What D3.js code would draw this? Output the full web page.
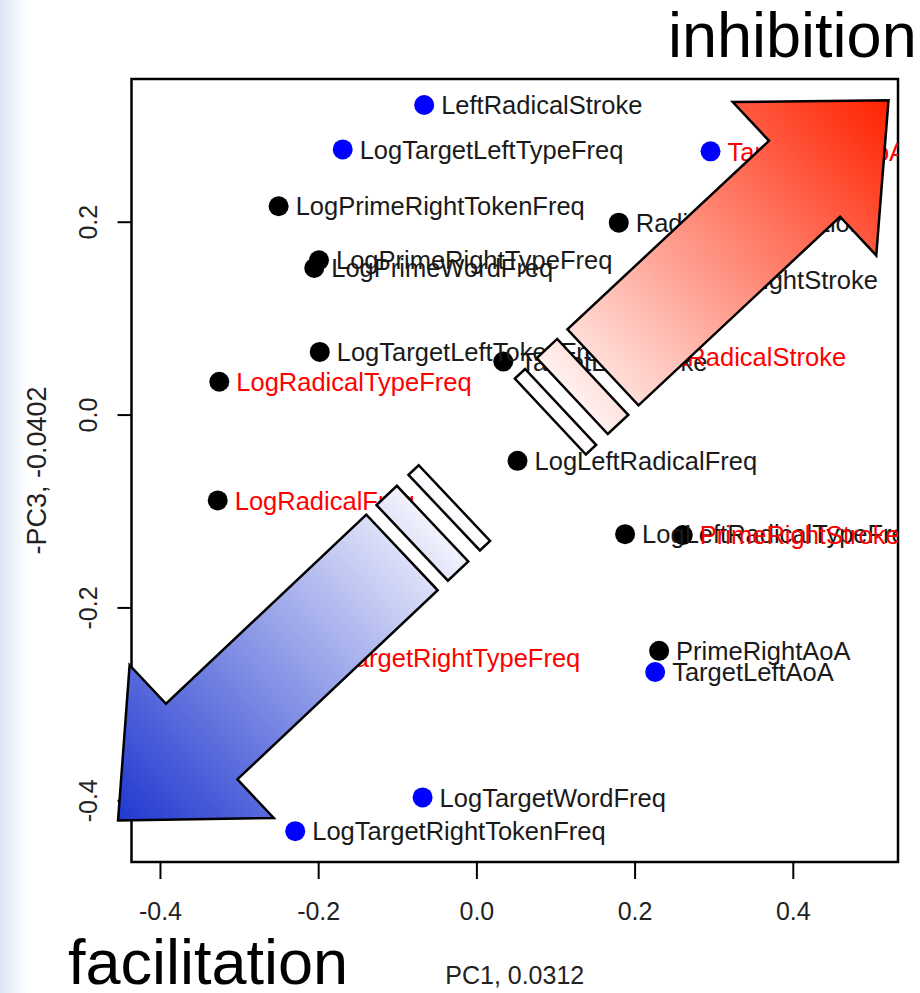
<!DOCTYPE html>
<html>
<head>
<meta charset="utf-8">
<script src="https://cdn.jsdelivr.net/npm/d3@7"></script>
<style>
    body { margin: 0; background: #fff; }
    text { font-family: "Liberation Sans", Arial, sans-serif; }
</style>
</head>
<body>
<script>
//page size
var w = 920, h = 993;

//variable names and their loadings
var names = [
    "LeftRadicalStroke", "LogTargetLeftTypeFreq", "TargetRightAoA", "LogPrimeRightTokenFreq",
    "RadicalCombination", "LogPrimeRightTypeFreq", "LogPrimeWordFreq", "TargetRightStroke",
    "LogTargetLeftTokenFreq", "TargetLeftStroke", "RightRadicalStroke", "LogRadicalTypeFreq",
    "LogLeftRadicalFreq", "LogRadicalFreq", "LogLeftRadicalTypeFreq", "PrimeRightStroke",
    "PrimeRightAoA", "TargetLeftAoA", "LogTargetRightTypeFreq", "LogTargetWordFreq",
    "LogTargetRightTokenFreq"
];
var pc1 = [
    -0.066, -0.169, 0.296, -0.250,
    0.180, -0.199, -0.205, 0.228,
    -0.198, 0.034, 0.170, -0.325,
    0.052, -0.327, 0.188, 0.261,
    0.231, 0.226, -0.245, -0.068,
    -0.229
];
var pc3 = [
    0.321, 0.275, 0.273, 0.216,
    0.199, 0.160, 0.152, 0.140,
    0.065, 0.055, 0.060, 0.034,
    -0.048, -0.089, -0.124, -0.125,
    -0.245, -0.267, -0.252, -0.397,
    -0.432
];
//dot group (target side vs other) and label group (significant or not)
var dotGroup = [
    "target", "target", "target", "other",
    "other", "other", "other", "other",
    "other", "other", "other", "other",
    "other", "other", "other", "other",
    "other", "target", "other", "target",
    "target"
];
var labelGroup = [
    "ns", "ns", "sig", "ns",
    "ns", "ns", "ns", "ns",
    "ns", "ns", "sig", "sig",
    "ns", "sig", "ns", "sig",
    "ns", "ns", "sig", "ns",
    "ns"
];
var xTicks = [-0.4, -0.2, 0.0, 0.2, 0.4];
var yTicks = [-0.4, -0.2, 0.0, 0.2];

//arrow annotations, tail and tip in data units
var arrowNames = ["inhibition", "facilitation"];
var arrowTail = [[0.160, 0.049], [-0.094, -0.143]];
var arrowTip = [[0.521, 0.326], [-0.453, -0.421]];

window.onload = function(){

    var points = names.map(function(d, i){
        return { name: d, x: pc1[i], y: pc3[i], dot: dotGroup[i], lab: labelGroup[i] };
    });

    //plot box edges
    var boxL = 131.5, boxR = 898, boxT = 79, boxB = 862;

    var x = d3.scaleLinear()
        .domain([-0.436, 0.533])
        .range([boxL, boxR]);

    var y = d3.scaleLinear()
        .domain([-0.464, 0.348])
        .range([boxB, boxT]);

    var dotColor = d3.scaleOrdinal()
        .domain(["target", "other"])
        .range(["#0000ff", "#000000"]);

    var labelColor = d3.scaleOrdinal()
        .domain(["sig", "ns"])
        .range(["#ff0000", "#1a1a1a"]);

    var svg = d3.select("body")
        .append("svg")
        .attr("width", w)
        .attr("height", h);

    var defs = svg.append("defs");

    //faint slide background on the left edge
    var bg = defs.append("linearGradient")
        .attr("id", "bgGrad")
        .attr("x1", 0).attr("x2", 1).attr("y1", 0).attr("y2", 0);
    bg.append("stop").attr("offset", 0).attr("stop-color", "#dbe5f5");
    bg.append("stop").attr("offset", 1).attr("stop-color", "#ffffff");

    svg.append("rect")
        .attr("x", 0)
        .attr("y", 0)
        .attr("width", 28)
        .attr("height", h)
        .style("fill", "url(#bgGrad)");

    //clip labels to the plot region
    defs.append("clipPath")
        .attr("id", "plotClip")
        .append("rect")
        .attr("x", boxL)
        .attr("y", boxT)
        .attr("width", boxR - boxL)
        .attr("height", boxB - boxT);

    var fmt = function(d){ return d.toFixed(1); };

    //x axis
    var xAxis = svg.append("g")
        .attr("class", "axis")
        .attr("transform", "translate(0," + boxB + ")")
        .call(d3.axisBottom(x).tickValues(xTicks).tickSize(17).tickPadding(23).tickFormat(fmt));

    //y axis
    var yAxis = svg.append("g")
        .attr("class", "axis")
        .attr("transform", "translate(" + boxL + ",0)")
        .call(d3.axisLeft(y).tickValues(yTicks).tickSize(14).tickFormat(fmt));

    svg.selectAll(".axis .domain").remove();
    svg.selectAll(".axis line")
        .style("stroke", "#000")
        .style("stroke-width", 2);
    svg.selectAll(".axis text")
        .style("font-size", "25px")
        .style("fill", "#222")
        .style("font-family", "'Liberation Sans', Arial, sans-serif");

    yAxis.selectAll("text")
        .attr("x", 0)
        .attr("y", -35)
        .attr("dy", 0)
        .attr("text-anchor", "middle")
        .attr("transform", "rotate(-90)");

    //box around plot
    svg.append("rect")
        .attr("x", boxL)
        .attr("y", boxT)
        .attr("width", boxR - boxL)
        .attr("height", boxB - boxT)
        .style("fill", "none")
        .style("stroke", "#000")
        .style("stroke-width", 2.5);

    //axis titles
    svg.append("text")
        .attr("x", (boxL + boxR) / 2)
        .attr("y", 984)
        .attr("text-anchor", "middle")
        .style("font-size", "25px")
        .style("fill", "#222")
        .text("PC1, 0.0312");

    svg.append("text")
        .attr("transform", "translate(46," + (boxT + boxB) / 2 + ") rotate(-90)")
        .attr("text-anchor", "middle")
        .style("font-size", "27px")
        .style("fill", "#222")
        .text("-PC3, -0.0402");

    //points
    svg.selectAll(".dot")
        .data(points)
        .enter()
        .append("circle")
        .attr("class", "dot")
        .attr("cx", function(d){ return x(d.x); })
        .attr("cy", function(d){ return y(d.y); })
        .attr("r", 10)
        .style("fill", function(d){ return dotColor(d.dot); });

    //labels to the right of each point
    svg.append("g")
        .attr("clip-path", "url(#plotClip)")
        .selectAll(".label")
        .data(points)
        .enter()
        .append("text")
        .attr("class", "label")
        .attr("x", function(d){ return x(d.x) + 17; })
        .attr("y", function(d){ return y(d.y); })
        .attr("dy", "0.36em")
        .style("font-size", "25.5px")
        .style("fill", function(d){ return labelColor(d.lab); })
        .text(function(d){ return d.name; });

    //block arrows with two broken stripes behind the tail
    var headLen = 115, headHalf = 105, shaftHalf = 52;
    var stripes = [[14, 42], [58, 72]];
    var arrowColors = ["#ff2200", "#2038d0"];

    arrowNames.forEach(function(name, k){
        var t0 = [x(arrowTail[k][0]), y(arrowTail[k][1])];
        var t1 = [x(arrowTip[k][0]), y(arrowTip[k][1])];
        var len = Math.hypot(t1[0] - t0[0], t1[1] - t0[1]);
        var u = [(t1[0] - t0[0]) / len, (t1[1] - t0[1]) / len];
        var n = [-u[1], u[0]];
        var pt = function(a, b){
            //a along the axis from the tail, b across it
            return [t0[0] + u[0] * a + n[0] * b, t0[1] + u[1] * a + n[1] * b];
        };
        var base = len - headLen;

        var grad = defs.append("linearGradient")
            .attr("id", "arrowGrad" + k)
            .attr("gradientUnits", "userSpaceOnUse")
            .attr("x1", pt(-72, 0)[0]).attr("y1", pt(-72, 0)[1])
            .attr("x2", t1[0]).attr("y2", t1[1]);
        grad.append("stop").attr("offset", 0).attr("stop-color", "#ffffff");
        grad.append("stop").attr("offset", 1).attr("stop-color", arrowColors[k]);

        var shapes = [[
            pt(0, shaftHalf), pt(base, shaftHalf), pt(base, headHalf), t1,
            pt(base, -headHalf), pt(base, -shaftHalf), pt(0, -shaftHalf)
        ]];
        stripes.forEach(function(s){
            shapes.push([
                pt(-s[0], shaftHalf), pt(-s[0], -shaftHalf),
                pt(-s[1], -shaftHalf), pt(-s[1], shaftHalf)
            ]);
        });

        svg.append("g")
            .attr("class", "arrow " + name)
            .selectAll("polygon")
            .data(shapes)
            .enter()
            .append("polygon")
            .attr("points", function(d){ return d.map(function(p){ return p.join(","); }).join(" "); })
            .style("fill", "url(#arrowGrad" + k + ")")
            .style("stroke", "#000")
            .style("stroke-width", 2.5)
            .style("stroke-linejoin", "miter");
    });

    //big annotation words
    svg.append("text")
        .attr("x", 668)
        .attr("y", 57)
        .style("font-size", "63px")
        .style("fill", "#000")
        .text("inhibition");

    svg.append("text")
        .attr("x", 68)
        .attr("y", 984)
        .style("font-size", "63px")
        .style("fill", "#000")
        .text("facilitation");
};
</script>
</body>
</html>
